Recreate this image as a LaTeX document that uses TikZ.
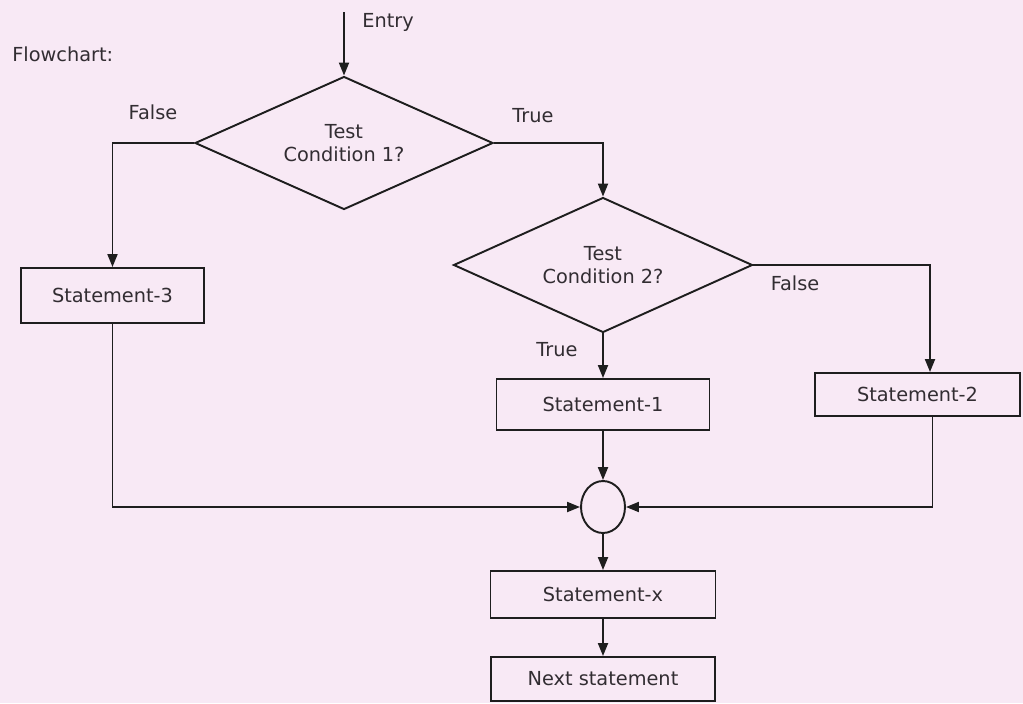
\documentclass[tikz,border=0pt]{standalone}
\usepackage{fontspec}
\setmainfont{DejaVu Sans}
\usetikzlibrary{shapes.geometric,arrows.meta,positioning,calc}
\definecolor{bgpink}{RGB}{248,233,245}
\definecolor{ink}{RGB}{30,30,30}
\definecolor{txt}{RGB}{50,45,50}
\tikzset{
  every node/.style={font=\fontsize{11}{13.5}\selectfont, text=txt},
  stmt/.style={draw=ink, line width=1.1pt, rectangle, inner sep=0pt, align=center},
  decide/.style={draw=ink, line width=1.1pt, diamond, shape aspect=2.24, inner sep=0pt, align=center,
                 minimum width=5.96cm, minimum height=2.66cm},
  joint/.style={draw=ink, line width=1.1pt, ellipse, inner sep=0pt, minimum width=0.88cm, minimum height=1.04cm},
  arr/.style={draw=ink, line width=1.1pt, -{Triangle[length=0.26cm,width=0.2cm]}},
  lbl/.style={inner sep=0pt}
}
\begin{document}
\begin{tikzpicture}[x=0.02cm,y=-0.02cm]
\fill[bgpink] (0,0) rectangle (1023,703);
\useasboundingbox (0,0) rectangle (1023,703);

\node[lbl, anchor=west] (title) at (12,54) {Flowchart:};

\coordinate (entry) at (344,12);
\node[lbl, anchor=west] (entrylbl) at (362,22) {Entry};

\node[decide] (d1) at (344,143) {Test\\Condition 1?};
\node[decide, minimum width=5.98cm, minimum height=2.7cm] (d2) at (603,265) {Test\\Condition 2?};

\node[stmt, minimum width=3.66cm, minimum height=1.1cm] (s3) at (112.5,295.5) {Statement-3};
\node[stmt, minimum width=4.26cm, minimum height=1.02cm] (s1) at (603,404.5) {Statement-1};
\node[stmt, minimum width=4.1cm, minimum height=0.86cm] (s2) at (917.5,394.5) {Statement-2};
\node[joint] (c) at (603,507) {};
\node[stmt, minimum width=4.5cm, minimum height=0.94cm] (sx) at (603,594.5) {Statement-x};
\node[stmt, minimum width=4.48cm, minimum height=0.88cm] (nx) at (603,679) {Next statement};

\node[lbl] (f1) at (153,112) {False};
\node[lbl] (t1) at (533,116) {True};
\node[lbl] (t2) at (557,350) {True};
\node[lbl] (f2) at (795,283) {False};

\draw[arr] (entry) -- (d1.north);
\draw[arr] (d1.west) -| (s3.north);
\draw[arr] (d1.east) -| (d2.north);
\draw[arr] (d2.south) -- (s1.north);
\draw[arr] (d2.east) -| ([xshift=0.25cm]s2.north);
\draw[arr] (s1.south) -- (c.north);
\draw[arr] (s3.south) |- (c.west);
\draw[arr] ([xshift=0.3cm]s2.south) |- (c.east);
\draw[arr] (c.south) -- (sx.north);
\draw[arr] (sx.south) -- (nx.north);
\end{tikzpicture}
\end{document}
